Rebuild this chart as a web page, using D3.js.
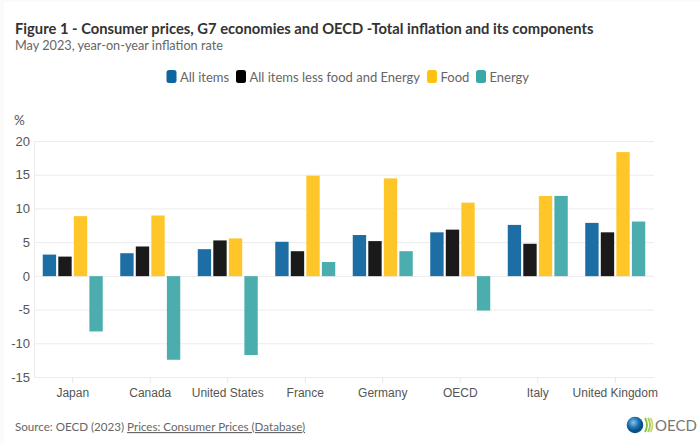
<!DOCTYPE html>
<html>
<head>
<meta charset="utf-8">
<script src="https://cdn.jsdelivr.net/npm/d3@7"></script>
<style>
  body { margin: 0; background: #fff; }
  svg { display: block; font-family: Lato, sans-serif; }
  .grid line { stroke: #ececec; stroke-width: 1; }
  .grid path { display: none; }
  .grid text { fill: #555; font-size: 13px; }
  .xaxis path { display: none; }
  .xaxis line { stroke: #e6e6e6; }
  .xaxis text { fill: #555; font-size: 12px; }
</style>
</head>
<body>
<div id="chart"></div>
<script>
// values
const countries = ["Japan", "Canada", "United States", "France", "Germany", "OECD", "Italy", "United Kingdom"];
const seriesNames = ["All items", "All items less food and Energy", "Food", "Energy"];
const allItems = [3.2, 3.4, 4.0, 5.1, 6.1, 6.5, 7.6, 7.9];
const lessFoodEnergy = [2.9, 4.4, 5.3, 3.7, 5.2, 6.9, 4.8, 6.5];
const food = [8.9, 9.0, 5.6, 14.9, 14.5, 10.9, 11.9, 18.4];
const energy = [-8.2, -12.4, -11.7, 2.1, 3.7, -5.1, 11.9, 8.1];
const yTicks = [-15, -10, -5, 0, 5, 10, 15, 20];

const seriesValues = [allItems, lessFoodEnergy, food, energy];
const barColors = ["#1c6ea4", "#1a1a1a", "#ffc629", "#4badad"];
const legendColors = ["#0f659f", "#000000", "#ffc20e", "#3aa8a8"];

const width = 700, height = 443;
const margin = {top: 141, right: 46, bottom: 66, left: 34};
const plotW = width - margin.left - margin.right;
const plotH = height - margin.top - margin.bottom;

const svg = d3.select("#chart").append("svg")
    .attr("width", width)
    .attr("height", height)
    .style("background", "#fafafa");

// page card, leaves a faint strip at the top and left
svg.append("rect")
    .attr("x", 4).attr("y", 2)
    .attr("width", width - 4).attr("height", height - 2)
    .attr("fill", "#fff");

// TITLE //
svg.append("text")
    .attr("x", 15).attr("y", 34)
    .attr("fill", "#333")
    .style("font-size", "14.75px")
    .style("font-weight", 700)
    .text("Figure 1 - Consumer prices, G7 economies and OECD -Total inflation and its components");

svg.append("text")
    .attr("x", 15).attr("y", 50)
    .attr("fill", "#666")
    .style("font-size", "12.7px")
    .text("May 2023, year-on-year inflation rate");

// LEGEND //
const legendSwatchX = [166.5, 236, 427, 476];
const legend = svg.selectAll(".legend")
    .data(seriesNames)
    .enter().append("g")
    .attr("class", "legend")
    .attr("transform", (d, i) => "translate(" + legendSwatchX[i] + ",70)");
legend.append("rect")
    .attr("width", 10).attr("height", 13).attr("rx", 2.5)
    .attr("fill", (d, i) => legendColors[i]);
legend.append("text")
    .attr("x", 13.5).attr("y", 12)
    .attr("fill", "#666")
    .style("font-size", "13px")
    .text(d => d);

// SCALES //
const y = d3.scaleLinear().domain([-15, 20]).range([plotH, 0]);
const x = d3.scaleBand().domain(countries).range([0, plotW]);
const xInner = d3.scaleBand()
    .domain(d3.range(seriesNames.length))
    .range([x.bandwidth() / 2 - 30, x.bandwidth() / 2 + 30])
    .paddingInner(0.14);

const g = svg.append("g")
    .attr("transform", "translate(" + margin.left + "," + margin.top + ")");

// y unit
g.append("text")
    .attr("x", -20).attr("y", -16)
    .attr("fill", "#555")
    .style("font-size", "13.5px")
    .text("%");

// gridlines + y ticks (labels use a plain hyphen like the original)
g.append("g")
    .attr("class", "grid")
    .call(d3.axisLeft(y).tickValues(yTicks).tickSize(-plotW).tickPadding(4).tickFormat(d => String(d)));

// faint vertical axis line
g.append("line")
    .attr("x1", 0.5).attr("x2", 0.5)
    .attr("y1", y(20)).attr("y2", y(-15))
    .attr("stroke", "#ececec");

// x ticks at the bottom
g.append("g")
    .attr("class", "xaxis")
    .attr("transform", "translate(0," + plotH + ")")
    .call(d3.axisBottom(x).tickSize(6).tickPadding(5));

// BARS //
const groups = g.selectAll(".country")
    .data(countries)
    .enter().append("g")
    .attr("class", "country")
    .attr("transform", d => "translate(" + x(d) + ",0.3)");

groups.selectAll("rect")
    .data((d, c) => seriesValues.map((s, i) => ({series: i, value: s[c]})))
    .enter().append("rect")
    .attr("x", d => xInner(d.series))
    .attr("width", xInner.bandwidth())
    .attr("y", d => y(Math.max(0, d.value)))
    .attr("height", d => Math.abs(y(d.value) - y(0)))
    .attr("fill", d => barColors[d.series]);

// SOURCE //
const source = svg.append("text")
    .attr("x", 15).attr("y", 431)
    .attr("fill", "#666")
    .style("font-size", "11.6px");
source.append("tspan").text("Source: OECD (2023) ");
source.append("tspan").style("text-decoration", "underline").text("Prices: Consumer Prices (Database)");

// LOGO //
const defs = svg.append("defs");
const globe = defs.append("radialGradient").attr("id", "globe").attr("cx", "40%").attr("cy", "35%");
globe.append("stop").attr("offset", "0%").attr("stop-color", "#8fc3e6");
globe.append("stop").attr("offset", "60%").attr("stop-color", "#1f78b8");
globe.append("stop").attr("offset", "100%").attr("stop-color", "#0b4f86");

const logo = svg.append("g").attr("transform", "translate(635,425)");
logo.append("circle").attr("r", 8.3).attr("fill", "url(#globe)");
logo.selectAll("path")
    .data([[10, "#7fbf3f"], [13, "#a9cc4a"], [15.5, "#c9d96a"]])
    .enter().append("path")
    .attr("d", d => "M" + d[0] + ",-7 Q" + (d[0] + 4) + ",0 " + d[0] + ",7")
    .attr("fill", "none")
    .attr("stroke", d => d[1])
    .attr("stroke-width", 1.8);
logo.append("text")
    .attr("x", 20).attr("y", 6)
    .attr("fill", "#777")
    .style("font-size", "15px")
    .text("OECD");
</script>
</body>
</html>
